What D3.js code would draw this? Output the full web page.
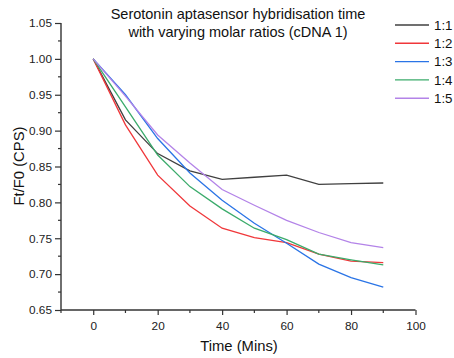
<!DOCTYPE html>
<html>
<head>
<meta charset="utf-8">
<script src="https://cdn.jsdelivr.net/npm/d3@7"></script>
<style>
html,body{margin:0;padding:0;background:#fff;}
svg{display:block;font-family:Arial,"Liberation Sans",sans-serif;}
</style>
</head>
<body>
<svg id="chart" width="454" height="358"></svg>
<script>
const times = [0, 10, 20, 30, 40, 50, 60, 70, 80, 90];
const seriesNames = ["1:1", "1:2", "1:3", "1:4", "1:5"];
const seriesColors = ["#404040", "#f0373a", "#2a74e6", "#3bab6b", "#b383e8"];
const s11 = [1.000, 0.915, 0.868, 0.844, 0.832, 0.835, 0.838, 0.825, 0.826, 0.827];
const s12 = [1.000, 0.908, 0.838, 0.795, 0.764, 0.751, 0.744, 0.728, 0.718, 0.716];
const s13 = [1.000, 0.950, 0.889, 0.841, 0.803, 0.771, 0.743, 0.714, 0.695, 0.682];
const s14 = [1.000, 0.933, 0.866, 0.822, 0.791, 0.764, 0.748, 0.728, 0.720, 0.713];
const s15 = [1.000, 0.948, 0.894, 0.855, 0.818, 0.796, 0.775, 0.758, 0.744, 0.737];
const xTicks = [0, 20, 40, 60, 80, 100];
const yTicks = [0.65, 0.70, 0.75, 0.80, 0.85, 0.90, 0.95, 1.00, 1.05];
const titleLines = ["Serotonin aptasensor hybridisation time", "with varying molar ratios (cDNA 1)"];
const xLabel = "Time (Mins)";
const yLabel = "Ft/F0 (CPS)";

const allSeries = [s11, s12, s13, s14, s15];
const svg = d3.select("#chart");
const axisColor = "#333";

const x = d3.scaleLinear().domain([-10, 100]).range([61, 415.5]);
const y = d3.scaleLinear().domain([0.65, 1.05]).range([310, 23]);

// axes
const xAxis = d3.axisBottom(x).tickValues(xTicks).tickFormat(d3.format("d")).tickSize(5).tickSizeOuter(0);
const yAxis = d3.axisLeft(y).tickValues(yTicks).tickFormat(d3.format(".2f")).tickSize(6).tickSizeOuter(0);

// minor ticks
const xMinor = d3.range(-10, 101, 10).filter(v => !xTicks.includes(v));
const yMinor = d3.range(0, 8).map(i => 0.675 + i * 0.05);

const gx = svg.append("g").attr("transform", "translate(0,310)").call(xAxis);
gx.selectAll("line").attr("stroke", axisColor).attr("stroke-width", 1.2);
gx.select(".domain").attr("stroke", axisColor).attr("stroke-width", 1.4).attr("d", `M${x(-10)},0H${x(100)}`);
gx.selectAll("text").attr("fill", "#222").attr("font-size", "11.8px").attr("dy", "1.05em").attr("font-family", "Arial, 'Liberation Sans', sans-serif");
gx.selectAll(".minor").data(xMinor).enter().append("line")
  .attr("x1", d => x(d)).attr("x2", d => x(d)).attr("y1", 0).attr("y2", 3)
  .attr("stroke", axisColor).attr("stroke-width", 1.2);

const gy = svg.append("g").attr("transform", "translate(61,0)").call(yAxis);
gy.selectAll("line").attr("stroke", axisColor).attr("stroke-width", 1.2);
gy.select(".domain").attr("stroke", axisColor).attr("stroke-width", 1.4).attr("d", `M0,${y(0.65)}V${y(1.05)}`);
gy.selectAll("text").attr("fill", "#222").attr("font-size", "11.8px").attr("x", -9).attr("font-family", "Arial, 'Liberation Sans', sans-serif");
gy.selectAll(".minor").data(yMinor).enter().append("line")
  .attr("x1", -3).attr("x2", 0).attr("y1", d => y(d)).attr("y2", d => y(d))
  .attr("stroke", axisColor).attr("stroke-width", 1.2);

// lines
const line = d3.line().x((d, i) => x(times[i])).y(d => y(d));
allSeries.forEach((s, k) => {
  svg.append("path").datum(s).attr("d", line)
    .attr("fill", "none").attr("stroke", seriesColors[k]).attr("stroke-width", 1.3);
});

// title
svg.append("g").selectAll("text").data(titleLines).enter().append("text")
  .attr("x", 238).attr("y", (d, i) => 18.5 + i * 18.3)
  .attr("text-anchor", "middle").attr("font-size", "14.5px").attr("fill", "#111")
  .text(d => d);

// axis labels
svg.append("text").attr("x", 239).attr("y", 351).attr("text-anchor", "middle")
  .attr("font-size", "14.8px").attr("fill", "#111").text(xLabel);
svg.append("text").attr("transform", "translate(24,166) rotate(-90)").attr("text-anchor", "middle")
  .attr("font-size", "14.8px").attr("fill", "#111").text(yLabel);

// legend
const lg = svg.append("g");
seriesNames.forEach((n, k) => {
  const yy = 25 + k * 18.3;
  lg.append("line").attr("x1", 395).attr("x2", 429).attr("y1", yy).attr("y2", yy)
    .attr("stroke", seriesColors[k]).attr("stroke-width", 1.4);
  lg.append("text").attr("x", 434).attr("y", yy + 4.8).attr("font-size", "13.3px").attr("fill", "#111").text(n);
});
</script>
</body>
</html>
